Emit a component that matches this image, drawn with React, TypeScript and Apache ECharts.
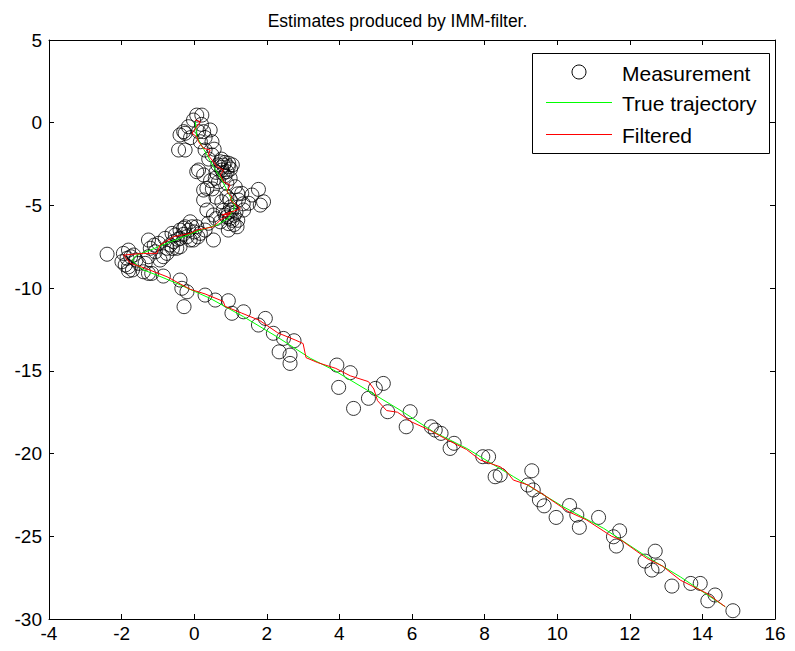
import React, { useEffect, useRef } from "react";
import * as echarts from "echarts";

const clusterMeasurements: [number, number][] = [
  [0.07, 0.46], [0.21, 0.46], [-0.02, 0.16], [-0.16, -0.24], [-0.29, -0.54], [-0.39, -0.74],
  [-0.25, -0.64], [-0.43, -1.65], [-0.25, -1.65], [0.12, -0.54], [0.26, -0.54], [0.44, -0.44],
  [0.49, -1.15], [0.17, -1.15], [0.3, -1.65], [0.49, -1.95], [0.72, -2.36], [0.81, -2.56],
  [0.94, -2.66], [0.76, -2.86], [0.9, -2.96], [0.12, -2.86], [0.26, -3.16], [0.99, -3.36],
  [0.58, -3.36], [0.67, -3.57], [0.9, -3.66], [0.35, -3.97], [1.13, -3.87], [1.31, -4.27],
  [1.77, -4.03], [1.59, -4.37], [0.26, -4.67], [0.76, -4.78], [0.99, -4.67], [1.22, -4.67],
  [1.91, -4.78], [1.5, -4.87], [0.9, -4.47], [1.82, -4.98], [1.36, -5.28], [1.04, -5.28],
  [0.85, -5.58], [0.99, -5.78], [0.72, -5.99], [0.53, -5.58], [0.39, -6.08], [0.3, -6.49],
  [0.07, -6.29], [-0.11, -5.99], [-0.25, -6.29], [-0.39, -6.49], [-0.2, -6.89], [-0.52, -6.79],
  [-0.57, -7.19], [-0.8, -6.99], [-0.75, -7.59], [-0.85, -8.1], [1.18, -6.29], [0.94, -6.49],
  [-0.02, -7.09], [0.17, -6.69], [-0.39, -7.5], [0.53, -7.09], [0.35, -5.28], [0.07, -2.96],
  [0.26, -4.07], [-0.29, -6.38], [-0.06, -6.29], [-0.39, -6.99], [-0.11, -7.09], [-0.61, -6.69],
  [-0.66, -7.39], [-0.75, -7.9], [-0.48, -7.59], [-0.98, -7.29], [-1.07, -7.8], [-1.26, -7.09],
  [-1.26, -8.1], [-0.94, -8.3], [-1.21, -7.59], [-1.95, -7.9], [-1.81, -7.7], [-1.85, -8.2],
  [-1.67, -8.0], [-1.99, -8.4], [-1.81, -8.71], [-1.53, -8.5], [-1.35, -8.5], [-1.26, -9.11],
  [0.85, -2.4], [0.75, -2.7], [1.0, -2.8], [0.95, -5.4], [1.1, -5.6], [1.05, -5.9],
  [0.9, -5.7], [0.5, -4.0], [0.6, -3.0], [0.4, -2.2],
  [0.75, -2.2], [0.95, -2.45], [0.8, -3.05], [0.65, -2.55], [1.05, -2.55], [0.85, -3.2],
  [1.0, -5.1], [1.15, -5.4], [0.8, -5.3], [1.2, -5.9], [0.95, -6.1], [0.6, -5.8],
  [1.1, -6.15], [-0.15, -6.5], [0.0, -6.6], [0.1, -6.9], [-0.3, -6.75], [-0.45, -7.05],
  [-1.75, -8.1], [-1.9, -8.6], [-1.6, -8.3], [-1.7, -8.9], [-1.1, -7.4], [-0.6, -7.6],
  [0.2, -0.1], [0.3, -0.9], [-0.1, -0.9], [0.55, -1.6], [1.35, -4.9], [1.2, -4.3],
  [0.6, -4.5], [0.45, -3.5],
];

const trackMeasurements: [number, number][] = [
  [-2.4, -7.95], [-1.81, -8.95], [-1.4, -9.01], [-1.17, -9.11], [-0.85, -9.27], [-0.39, -9.51],
  [-0.34, -10.01], [-0.2, -10.22], [-0.28, -11.12], [0.3, -10.42], [0.58, -10.72], [0.94, -10.76],
  [1.04, -11.52], [1.36, -11.43], [1.77, -12.23], [1.96, -11.83], [2.18, -12.73], [2.46, -13.04],
  [2.75, -13.18], [2.34, -13.85], [2.64, -14.05], [2.64, -14.55], [3.93, -14.65], [4.3, -15.11],
  [3.98, -16.0], [4.39, -17.27], [4.8, -16.66], [4.99, -16.06], [5.21, -15.76], [5.33, -17.47],
  [5.95, -17.47], [5.84, -18.38], [6.53, -18.38], [6.64, -18.58], [6.8, -18.78], [7.16, -19.38],
  [7.05, -19.69], [7.95, -20.19], [8.11, -20.19], [8.29, -21.4], [8.43, -21.3], [9.3, -21.04],
  [9.19, -21.9], [9.34, -22.2], [9.51, -22.8], [9.64, -23.16], [9.97, -23.86], [10.34, -23.14],
  [10.54, -23.72], [10.61, -24.46], [11.14, -23.86], [11.55, -25.03], [11.72, -24.67], [11.63, -25.59],
  [12.42, -26.5], [12.7, -25.9], [12.61, -27.04], [12.79, -26.8], [13.16, -28.01], [13.68, -27.85],
  [13.94, -27.85], [14.15, -28.9], [14.35, -28.55], [14.84, -29.5],
];

const trueTrajectory: [number, number][] = [
  [0.03, 0.06], [0.07, -0.85], [0.3, -1.75], [0.53, -2.66], [0.76, -3.46], [0.99, -4.47],
  [1.13, -5.08], [0.94, -5.78], [0.63, -6.18], [0.17, -6.49], [-0.29, -6.89], [-0.75, -7.29],
  [-1.21, -7.7], [-1.58, -8.0], [-1.72, -8.3], [-1.58, -8.6], [-1.4, -8.9], [-1.03, -9.21],
  [-0.48, -9.71], [0.44, -10.62], [1.36, -11.73], [2.28, -12.94], [3.2, -14.24], [3.84, -14.95],
  [4.76, -16.16], [5.67, -17.37], [6.59, -18.68], [7.51, -19.69], [8.34, -20.8], [8.8, -21.4],
  [10.17, -23.22], [11.28, -24.52], [12.47, -26.24], [13.39, -27.45], [14.63, -29.26],
];

const filteredTrajectory: [number, number][] = [
  [0.03, 0.16], [0.17, 0.06], [0.07, -0.24], [-0.06, -0.64], [0.07, -0.85], [0.12, -1.15],
  [0.26, -1.55], [0.44, -1.65], [0.38, -1.95], [0.53, -2.36], [0.63, -2.66], [0.81, -2.86],
  [0.72, -3.16], [0.81, -3.57], [0.99, -3.77], [0.9, -4.17], [1.04, -4.47], [0.99, -4.67],
  [1.27, -5.18], [1.18, -5.28], [0.76, -5.58], [1.0, -5.5], [0.72, -5.88], [0.53, -6.29],
  [0.07, -6.49], [-0.11, -6.69], [-0.57, -6.89], [-0.94, -7.39], [-1.03, -7.9], [-1.4, -7.9],
  [-1.95, -8.0], [-1.76, -8.5], [-1.35, -8.8], [-0.75, -9.31], [-0.11, -10.07], [0.3, -10.35],
  [0.8, -10.8], [0.85, -11.1], [1.3, -11.5], [1.8, -11.95], [2.3, -12.7], [2.8, -13.15],
  [3.0, -13.35], [3.08, -14.2], [3.4, -14.5], [3.9, -14.85], [4.3, -15.3], [4.8, -15.65],
  [4.95, -16.1], [5.05, -16.8], [5.3, -17.4], [5.6, -17.5], [6.0, -18.1], [6.5, -18.6],
  [7.0, -19.2], [7.5, -19.75], [7.88, -20.39], [8.43, -20.8], [8.61, -21.1], [8.79, -21.6],
  [9.2, -21.9], [9.7, -22.6], [10.3, -23.5], [10.8, -24.0], [11.5, -25.0], [11.74, -25.2],
  [12.47, -26.34], [12.9, -26.8], [13.39, -27.65], [14.12, -28.45], [14.63, -29.26],
];

const xTicks = { min: -4, max: 16, step: 2 };
const yTicks = { min: -30, max: 5, step: 5 };
const legendLabels = ["Measurement", "True trajectory", "Filtered"];
const titleText = "Estimates produced by IMM-filter.";

const FONT = "Liberation Sans, Arial, sans-serif";

export default function App() {
  const ref = useRef<HTMLDivElement>(null);
  useEffect(() => {
    if (!ref.current) return;
    const chart = echarts.init(ref.current, undefined, { renderer: "svg" });
    const axisCommon = {
      type: "value" as const,
      axisLine: { show: true, onZero: false, lineStyle: { color: "#000", width: 1 } },
      axisTick: { show: true, inside: true, length: 5, lineStyle: { color: "#000", width: 1 } },
      splitLine: { show: false },
    };
    const labelStyle = { color: "#000", fontSize: 19, fontFamily: FONT };
    chart.setOption({
      animation: false,
      backgroundColor: "#fff",
      title: {
        text: titleText,
        left: "center",
        top: 7,
        textStyle: { color: "#000", fontSize: 17.5, fontWeight: "normal", fontFamily: FONT },
      },
      grid: { left: 49, right: 20, top: 40, bottom: 32, containLabel: false },
      xAxis: [
        { ...axisCommon, position: "bottom", min: xTicks.min, max: xTicks.max, interval: xTicks.step,
          axisLabel: { ...labelStyle, margin: 5 } },
        { ...axisCommon, position: "top", min: xTicks.min, max: xTicks.max, interval: xTicks.step,
          axisLabel: { show: false } },
      ],
      yAxis: [
        { ...axisCommon, position: "left", min: yTicks.min, max: yTicks.max, interval: yTicks.step,
          axisLabel: { ...labelStyle, margin: 7 } },
        { ...axisCommon, position: "right", min: yTicks.min, max: yTicks.max, interval: yTicks.step,
          axisLabel: { show: false } },
      ],
      series: [
        {
          name: legendLabels[0],
          type: "scatter",
          data: [...clusterMeasurements, ...trackMeasurements],
          symbol: "circle",
          symbolSize: 14,
          itemStyle: { color: "rgba(0,0,0,0)", borderColor: "#000", borderWidth: 1 },
          emphasis: { disabled: true },
          z: 2,
        },
        {
          name: legendLabels[1],
          type: "line",
          data: trueTrajectory,
          showSymbol: false,
          symbol: "none",
          lineStyle: { color: "#00ff00", width: 1 },
          z: 3,
        },
        {
          name: legendLabels[2],
          type: "line",
          data: filteredTrajectory,
          showSymbol: false,
          symbol: "none",
          lineStyle: { color: "#ff0000", width: 1 },
          z: 4,
        },
      ],
      graphic: [
        {
          type: "rect",
          shape: { x: 532.5, y: 53.5, width: 237, height: 100 },
          style: { fill: "#fff", stroke: "#000", lineWidth: 1 },
          z: 100,
        },
        {
          type: "circle",
          shape: { cx: 579, cy: 72, r: 7 },
          style: { fill: "none", stroke: "#000", lineWidth: 1 },
          z: 101,
        },
        {
          type: "line",
          shape: { x1: 546, y1: 102.5, x2: 612, y2: 102.5 },
          style: { stroke: "#00ff00", lineWidth: 1 },
          z: 101,
        },
        {
          type: "line",
          shape: { x1: 546, y1: 134.5, x2: 612, y2: 134.5 },
          style: { stroke: "#ff0000", lineWidth: 1 },
          z: 101,
        },
        ...legendLabels.map((t, i) => ({
          type: "text",
          x: 622,
          y: [73, 103, 135][i],
          style: { text: t, fill: "#000", fontSize: 21, fontFamily: FONT, textVerticalAlign: "middle", textAlign: "left" },
          z: 101,
        })),
      ],
    });
    return () => chart.dispose();
  }, []);
  return (
    <div
      ref={ref}
      style={{ position: "fixed", left: 0, top: 0, width: 795, height: 651, background: "#fff" }}
    />
  );
}
